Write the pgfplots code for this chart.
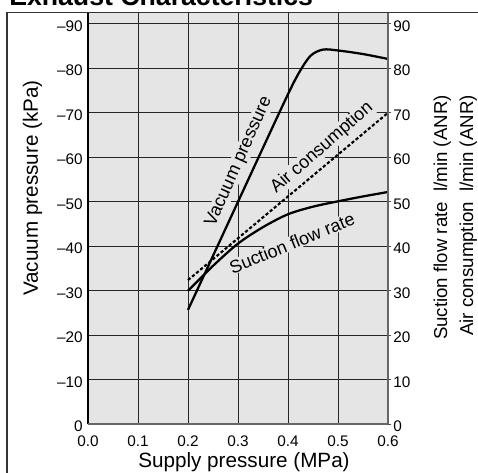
\documentclass[border=0pt]{standalone}
\usepackage{pgfplots}
\pgfplotsset{compat=1.18}
\usepackage{fontspec}
\setmainfont{Liberation Sans}
\begin{document}
\begin{tikzpicture}[x=1pt,y=1pt]
\begin{axis}[
  at={(0,0)}, anchor=south west,
  scale only axis, width=225pt, height=308.7pt,
  xmin=0, xmax=0.6, ymin=0, ymax=92.5,
  axis background/.style={fill=black!10},
  axis line style={draw=none},
  xtick={0,0.1,0.2,0.3,0.4,0.5,0.6},
  xticklabels={0.0,0.1,0.2,0.3,0.4,0.5,0.6},
  ytick={0,10,20,30,40,50,60,70,80,90},
  yticklabels={0,\textendash10,\textendash20,\textendash30,\textendash40,\textendash50,\textendash60,\textendash70,\textendash80,\textendash90},
  grid=major, major grid style={black!85, line width=0.6pt},
  tick style={draw=none},
  ticklabel style={font=\fontsize{11.5}{13}\selectfont},
  xticklabel style={anchor=base, yshift=-17pt},
  yticklabel style={anchor=east, xshift=-0.5pt, yshift=-1.5pt},
  clip=true,
]
\addplot[black, line width=1.7pt, smooth, tension=0.5] coordinates {
 (0.2,25.7) (0.3,50) (0.39,71.8) (0.42,78.6) (0.445,82.8) (0.47,84.2) (0.5,84.0) (0.55,83.2) (0.6,82.1)};
\addplot[black, line width=1.6pt, dash pattern=on 2.4pt off 1.6pt] coordinates {
 (0.2,32.4) (0.3,41.8) (0.4,51.2) (0.5,60.6) (0.6,70.0)};
\addplot[black, line width=1.7pt, smooth] coordinates {
 (0.2,30) (0.25,35.6) (0.3,40.6) (0.35,44.3) (0.4,47.2) (0.45,48.9) (0.5,50.1) (0.55,51.2) (0.6,52.2)};
\node[rotate=66, font=\fontsize{13.5}{16}\selectfont, fill=black!10, inner sep=0.5pt] at (axis cs:0.302,59.0) {Vacuum pressure};
\node[rotate=41, font=\fontsize{13.5}{16}\selectfont, fill=black!10, inner sep=0.5pt] at (axis cs:0.468,62.1) {Air consumption};
\node[rotate=22, font=\fontsize{13.5}{16}\selectfont, fill=black!10, inner sep=0.5pt] at (axis cs:0.408,40.7) {Suction flow rate};
\end{axis}
\begin{axis}[
  at={(0,0)}, anchor=south west,
  scale only axis, width=225pt, height=308.7pt,
  xmin=0, xmax=0.6, ymin=0, ymax=92.5,
  axis x line=none, axis y line*=right,
  axis line style={draw=black!60, line width=1.1pt, -},
  ytick={0,10,20,30,40,50,60,70,80,90},
  yticklabels={0,10,20,30,40,50,60,70,80,90},
  tick style={black!70, line width=0.6pt},
  tick align=outside, major tick length=2.5pt,
  ticklabel style={font=\fontsize{11.5}{13}\selectfont},
  yticklabel style={anchor=west, xshift=-2pt, yshift=-1.5pt},
]
\addplot[draw=none] coordinates {(0,0)};
\end{axis}
% axis frame lines
\draw[black, line width=0.8pt] (0,0) -- (0,308.7);
\draw[black!60, line width=1.4pt] (0,0) -- (225,0);
% outer frame
\draw[black!80, line width=0.8pt] (-60.75,-40) -- (-60.75,308.7) -- (300,308.7);
% title
\node[anchor=base west, inner sep=0pt, font=\fontsize{20}{24}\selectfont\bfseries] at (-59.25,313.7) {Exhaust Characteristics};
% axis labels
\node[rotate=90, anchor=base, inner sep=0pt, font=\fontsize{15.5}{18}\selectfont] at (-37.5,177.2) {Vacuum pressure (kPa)};
\node[anchor=base, inner sep=0pt, font=\fontsize{15.5}{18}\selectfont] at (117,-32.2) {Supply pressure (MPa)};
\node[rotate=90, anchor=base east, inner sep=0pt, font=\fontsize{14}{16}\selectfont] at (269.25,247) {Suction flow rate\hspace{0.55em}l/min (ANR)};
\node[rotate=90, anchor=base east, inner sep=0pt, font=\fontsize{14}{16}\selectfont] at (288.75,247) {Air consumption\hspace{0.55em}l/min (ANR)};
\pgfresetboundingbox
\path[use as bounding box] (-66,-36.5) rectangle (292.5,318.2);
\end{tikzpicture}
\end{document}
